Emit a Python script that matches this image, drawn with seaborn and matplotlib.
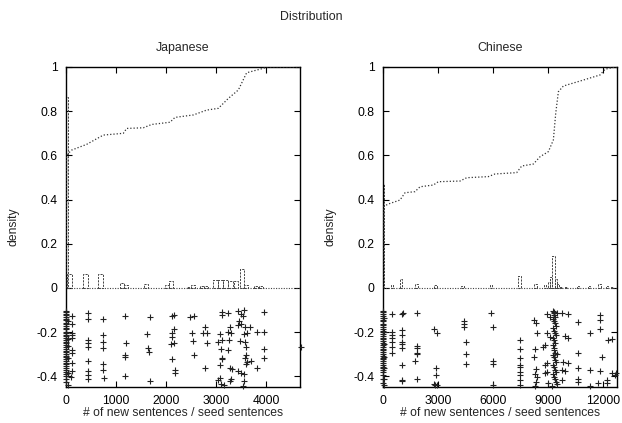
import numpy as np
import pandas as pd
import seaborn as sns
import matplotlib
matplotlib.use("Agg")
import matplotlib.pyplot as plt

# ------------------------------------------------
# data
# ------------------------------------------------
panels = ["Japanese", "Chinese"]

# cumulative distribution (dotted line)
jp_cdf_x = [0, 13, 113, 413, 747, 1147, 1213, 1547, 1713, 2080, 2180, 2547, 2813,
            3047, 3247, 3447, 3613, 3947, 4013, 4680]
jp_cdf_y = [0.0, 0.602, 0.624, 0.65, 0.692, 0.70, 0.722, 0.725, 0.74, 0.75, 0.772,
            0.783, 0.805, 0.813, 0.858, 0.896, 0.974, 0.994, 1.0, 1.0]
cn_cdf_x = [0, 18, 290, 927, 1200, 1745, 2018, 2745, 3018, 4200, 4563, 5745, 6109,
            7290, 7563, 8200, 8563, 9018, 9290, 9418, 9563, 9836, 10927, 11836,
            12109, 12654, 12760]
cn_cdf_y = [0.0, 0.368, 0.38, 0.398, 0.431, 0.436, 0.458, 0.466, 0.481, 0.484, 0.499,
            0.504, 0.516, 0.522, 0.552, 0.561, 0.594, 0.617, 0.67, 0.79, 0.888,
            0.914, 0.941, 0.964, 0.99, 1.0, 1.0]

# histogram boxes (dashed outline): centre, height, width
jp_hist_x = [20, 70, 390, 690, 1110, 1190, 1600, 2010, 2090, 2450, 2540, 2710, 2800,
             2990, 3090, 3190, 3290, 3400, 3510, 3600, 3800, 3900]
jp_hist_h = [0.865, 0.065, 0.062, 0.062, 0.022, 0.012, 0.02, 0.015, 0.032, 0.006,
             0.012, 0.01, 0.008, 0.035, 0.035, 0.035, 0.033, 0.03, 0.085, 0.012,
             0.01, 0.01]
jp_hist_w = [40, 90, 90, 90, 80, 80, 90, 80, 80, 80, 80, 80, 80, 90, 90, 90, 90, 90,
             80, 80, 80, 80]
cn_hist_x = [30, 500, 990, 1820, 2860, 4330, 5890, 7450, 8310, 8830, 9050, 9180, 9300,
             9420, 9550, 9700, 10000, 10630, 11230, 11800, 12200, 12500]
cn_hist_h = [0.47, 0.015, 0.04, 0.02, 0.012, 0.008, 0.012, 0.054, 0.02, 0.015, 0.025,
             0.05, 0.145, 0.04, 0.02, 0.006, 0.005, 0.01, 0.01, 0.02, 0.008, 0.005]
cn_hist_w = [60, 120, 120, 130, 130, 150, 120, 150, 150, 150, 120, 120, 130, 120, 120,
             120, 120, 110, 110, 150, 120, 120]

# individual items, jittered below zero (+ markers)
jp_pts_x = [0, 0, 0, 0, 0, 0, 0, 0, 0, 0, 0, 0, 0, 0, 0, 0, 0, 0, 0, 0, 0, 0, 0, 0,
            0, 0, 0, 0, 0, 0, 0, 0, 0, 0, 0, 0, 0, 0, 0, 0, 30, 30, 30, 30, 30, 30,
            127, 113, 120, 120, 120, 120, 120, 120, 120, 100,
            433, 433, 433, 433, 433, 433, 433, 433, 433,
            747, 747, 747, 747, 733, 733, 767,
            1180, 1200, 1180, 1170, 1180,
            1680, 1627, 1647, 1660, 1680,
            2113, 2167, 2167, 2113, 2113, 2167, 2100, 2113, 2180, 2180,
            2480, 2567, 2780, 2527, 2747, 2813, 2547, 2813, 2560, 2780,
            3127, 3127, 3247, 3433, 3567, 3500, 3547, 3460, 3500, 3447, 3967,
            3280, 3247, 3300, 3580, 3680, 3613, 3567, 3813, 3967, 3080, 3033,
            3113, 3260, 3480, 3580, 3593, 3100, 3233, 3967, 3593, 3580, 3113,
            3113, 3967, 3613, 3693, 3600, 3080, 3813, 3280, 3327, 3447, 3500,
            3567, 3080, 3047, 3300, 3280, 3567, 3547, 3100, 3167, 4700]
jp_pts_y = [-0.103, -0.109, -0.118, -0.124, -0.133, -0.141, -0.146, -0.157, -0.163,
            -0.171, -0.179, -0.186, -0.197, -0.204, -0.212, -0.219, -0.228, -0.236,
            -0.243, -0.251, -0.258, -0.267, -0.274, -0.283, -0.29, -0.298, -0.307,
            -0.313, -0.322, -0.33, -0.339, -0.345, -0.354, -0.362, -0.37, -0.381,
            -0.389, -0.398, -0.411, -0.426, -0.148, -0.231, -0.262, -0.318, -0.384,
            -0.441,
            -0.125, -0.164, -0.205, -0.213, -0.225, -0.28, -0.296, -0.341, -0.374,
            -0.405,
            -0.115, -0.14, -0.235, -0.25, -0.265, -0.329, -0.374, -0.394, -0.413,
            -0.14, -0.213, -0.243, -0.27, -0.345, -0.371, -0.409,
            -0.125, -0.25, -0.303, -0.311, -0.398,
            -0.133, -0.21, -0.273, -0.288, -0.419,
            -0.125, -0.122, -0.187, -0.202, -0.22, -0.248, -0.255, -0.321, -0.371,
            -0.383,
            -0.133, -0.125, -0.175, -0.205, -0.205, -0.202, -0.24, -0.25, -0.303,
            -0.36,
            -0.11, -0.122, -0.115, -0.103, -0.1, -0.118, -0.127, -0.148, -0.163,
            -0.167, -0.11, -0.178, -0.2, -0.202, -0.175, -0.178, -0.205, -0.21, -0.2,
            -0.198, -0.21, -0.243, -0.235, -0.235, -0.238, -0.246, -0.265, -0.277,
            -0.281, -0.276, -0.303, -0.318, -0.315, -0.322, -0.318, -0.333, -0.33,
            -0.345, -0.348, -0.363, -0.363, -0.368, -0.376, -0.386, -0.389, -0.409,
            -0.416, -0.412, -0.421, -0.421, -0.445, -0.434, -0.439, -0.265]

cn_pts_x = [0, 0, 0, 0, 0, 0, 0, 0, 0, 0, 0, 0, 0, 0, 0, 0, 0, 0, 0, 0, 0, 0, 0, 0,
            0, 0, 0, 0, 0, 0, 0, 0, 0, 0, 0, 0, 0, 0, 60, 60, 60, 60, 60, 60, 60,
            473, 1020, 1109, 1838, 473, 473, 473, 473, 473, 473,
            1020, 1020, 1020, 1040, 1020, 1020, 1050, 1030,
            1838, 1838, 1838, 1838, 1745, 1838,
            2800, 2929, 2890, 2890, 2800, 2930, 2850,
            4418, 4418, 4418, 4509, 4509, 4509, 5891, 6018, 5982, 5982, 6018,
            7473, 7473, 7473, 7473, 7473, 7473, 7473, 7473, 7473,
            8240, 8330, 8400, 8300, 8240, 8330, 8300, 8400, 8330, 8300,
            8930, 9110, 9345, 9475, 9745, 10110, 10655, 11837, 11837, 11837,
            11290, 12290, 12510, 8930, 9110, 9930, 10110, 8837, 8745, 10655,
            11927, 8930, 8837, 9836, 10110, 10655, 11290, 11837, 9745, 9930, 8930,
            8837, 12470, 12650, 10655, 10655, 9745, 11745, 12200, 12200, 11290,
            9018, 12700,
            9250, 9300, 9350, 9400, 9280, 9330, 9380, 9420, 9260, 9310, 9360, 9410,
            9290, 9340, 9390, 9250, 9300, 9350, 9400, 9280, 9330, 9380, 9420, 9260,
            9310, 9360, 9410, 9290, 9340, 9390, 9450, 9500, 9200, 9470]
cn_pts_y = [-0.102, -0.11, -0.117, -0.126, -0.135, -0.143, -0.15, -0.161, -0.168,
            -0.176, -0.184, -0.193, -0.2, -0.209, -0.216, -0.225, -0.232, -0.241,
            -0.249, -0.257, -0.266, -0.274, -0.281, -0.29, -0.299, -0.306, -0.315,
            -0.323, -0.33, -0.34, -0.347, -0.356, -0.364, -0.373, -0.382, -0.393,
            -0.41, -0.43, -0.138, -0.2, -0.252, -0.31, -0.36, -0.414, -0.44,
            -0.118, -0.118, -0.115, -0.112, -0.198, -0.213, -0.228, -0.243, -0.265,
            -0.296,
            -0.19, -0.213, -0.243, -0.253, -0.273, -0.348, -0.416, -0.422,
            -0.261, -0.27, -0.293, -0.3, -0.33, -0.41,
            -0.187, -0.205, -0.363, -0.394, -0.434, -0.437, -0.44,
            -0.148, -0.163, -0.175, -0.246, -0.299, -0.344, -0.112, -0.178, -0.33,
            -0.344, -0.439,
            -0.235, -0.277, -0.318, -0.348, -0.356, -0.379, -0.394, -0.416, -0.439,
            -0.145, -0.157, -0.205, -0.277, -0.314, -0.367, -0.389, -0.404, -0.424,
            -0.443,
            -0.118, -0.133, -0.107, -0.115, -0.115, -0.118, -0.152, -0.122, -0.145,
            -0.187, -0.205, -0.235, -0.232, -0.205, -0.22, -0.217, -0.228, -0.258,
            -0.265, -0.293, -0.314, -0.338, -0.348, -0.333, -0.341, -0.363, -0.371,
            -0.374, -0.371, -0.376, -0.378, -0.386, -0.383, -0.394, -0.413, -0.424,
            -0.416, -0.428, -0.416, -0.428, -0.443, -0.431, -0.385,
            -0.105, -0.112, -0.121, -0.13, -0.139, -0.148, -0.16, -0.171, -0.182,
            -0.193, -0.204, -0.214, -0.226, -0.237, -0.248, -0.259, -0.27, -0.281,
            -0.292, -0.303, -0.314, -0.325, -0.336, -0.347, -0.358, -0.369, -0.38,
            -0.391, -0.402, -0.413, -0.424, -0.435, -0.444, -0.3]

x_max = [4680, 12760]
x_ticks = [[0, 1000, 2000, 3000, 4000], [0, 3000, 6000, 9000, 12000]]
y_ticks = [-0.4, -0.2, 0, 0.2, 0.4, 0.6, 0.8, 1]
y_tick_labels = ["-0.4", "-0.2", "0", "0.2", "0.4", "0.6", "0.8", "1"]

# ------------------------------------------------
# figure
# ------------------------------------------------
sns.set_style("ticks")
plt.rcParams["font.family"] = ["Liberation Sans", "DejaVu Sans"]
plt.rcParams["font.size"] = 8.7

fig = plt.figure(figsize=(6.22, 4.23), dpi=100)
axes = [fig.add_axes([66 / 622, 36 / 423, 234 / 622, 320 / 423]),
        fig.add_axes([383 / 622, 36 / 423, 234 / 622, 320 / 423])]

ink = "#222222"
series = [
    (jp_cdf_x, jp_cdf_y, jp_hist_x, jp_hist_h, jp_hist_w, jp_pts_x, jp_pts_y),
    (cn_cdf_x, cn_cdf_y, cn_hist_x, cn_hist_h, cn_hist_w, cn_pts_x, cn_pts_y),
]

for i, ax in enumerate(axes):
    cdf_x, cdf_y, hx, hh, hw, px, py = series[i]

    ax.bar(hx, hh, width=hw, fill=False, edgecolor="#444444",
           linestyle=(0, (2.2, 1.2)), linewidth=0.7, zorder=2)
    ax.axhline(0, color="#444444", linestyle=(0, (1, 1.3)), linewidth=0.8, zorder=2)

    cdf = pd.DataFrame({"x": cdf_x, "y": cdf_y})
    sns.lineplot(data=cdf, x="x", y="y", ax=ax, estimator=None, sort=False,
                 color="#333333", linestyle=(0, (1, 1.6)), linewidth=0.9, zorder=3)

    pts = pd.DataFrame({"x": px, "y": py})
    sns.scatterplot(data=pts, x="x", y="y", ax=ax, marker="+", s=22,
                    color=ink, linewidth=0.8, zorder=4, clip_on=False)

    ax.set_xlim(0, x_max[i])
    ax.set_ylim(-0.448, 1)
    ax.set_xticks(x_ticks[i])
    ax.set_xticklabels([str(t) for t in x_ticks[i]])
    ax.set_yticks(y_ticks)
    ax.set_yticklabels(y_tick_labels)
    ax.tick_params(direction="in", length=4, width=0.8, top=True, right=True,
                   colors="black", labelsize=8.7)
    ax.tick_params(axis="x", pad=6)
    ax.tick_params(axis="y", pad=6)
    for sp in ax.spines.values():
        sp.set_visible(True)
        sp.set_linewidth(1.0)
        sp.set_color("black")

    ax.set_xlabel("# of new sentences / seed sentences", fontsize=8.7)
    ax.set_ylabel("density", fontsize=8.7)
    ax.xaxis.set_label_coords(0.5, -0.064)
    ax.yaxis.set_label_coords(-0.2, 0.5)
    ax.text(0.5, 1.059, panels[i], transform=ax.transAxes, ha="center",
            va="center", fontsize=8.9)

fig.text(0.5, 1 - 17 / 423, "Distribution", ha="center", va="center", fontsize=8.9)

fig.savefig("out.png", dpi=100)
